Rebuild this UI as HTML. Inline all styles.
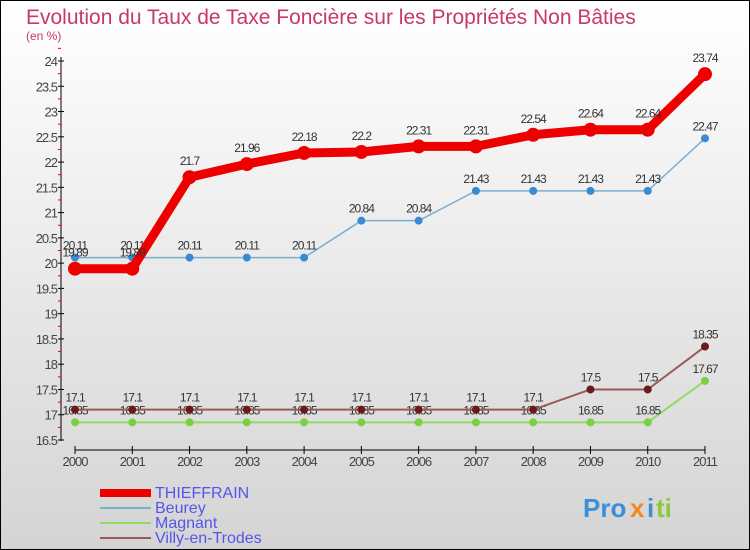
<!DOCTYPE html>
<html><head><meta charset="utf-8"><style>
body{margin:0}
svg{display:block;font-family:"Liberation Sans",sans-serif}
</style></head><body>
<svg width="750" height="550" id="c">
<defs><linearGradient id="bg" x1="0" y1="0" x2="0" y2="1"><stop offset="0" stop-color="#ffffff"/><stop offset="1" stop-color="#d4d4d4"/></linearGradient></defs>
<rect x="0.5" y="0.5" width="749" height="549" fill="url(#bg)" stroke="#000"/>
<text x="26" y="24" font-size="21" fill="#c8386a">Evolution du Taux de Taxe Foncière sur les Propriétés Non Bâties</text>
<text x="26" y="40" font-size="12" fill="#c8386a">(en %)</text>
<g id="axes"></g>
<g id="series"></g>
<g id="legend" font-size="16" fill="#5555ee">
<rect x="100" y="489" width="51" height="8" fill="#e00"/>
<text x="155" y="498">THIEFFRAIN</text>
<rect x="100" y="507" width="51" height="2" fill="#7aaed0"/>
<text x="155" y="513">Beurey</text>
<rect x="100" y="522" width="51" height="2" fill="#8fdc60"/>
<text x="155" y="528">Magnant</text>
<rect x="100" y="537" width="51" height="2" fill="#9a5a5a"/>
<text x="155" y="543">Villy-en-Trodes</text>
</g>
<g font-size="26" font-weight="bold">
<text x="583" y="517" fill="#3a8fd8">Pro</text><text x="630" y="517" fill="#f08a1c">x</text><text x="647" y="517" fill="#3a8fd8">i</text><text x="656" y="517" fill="#8cc83c">ti</text>
</g>
</svg>
<script>
const years=[2000,2001,2002,2003,2004,2005,2006,2007,2008,2009,2010,2011];
const thieffrain=[19.89,19.89,21.7,21.96,22.18,22.2,22.31,22.31,22.54,22.64,22.64,23.74];
const beurey=[20.11,20.11,20.11,20.11,20.11,20.84,20.84,21.43,21.43,21.43,21.43,22.47];
const magnant=[16.85,16.85,16.85,16.85,16.85,16.85,16.85,16.85,16.85,16.85,16.85,17.67];
const villy=[17.1,17.1,17.1,17.1,17.1,17.1,17.1,17.1,17.1,17.5,17.5,18.35];
const yTicks=[16.5,17,17.5,18,18.5,19,19.5,20,20.5,21,21.5,22,22.5,23,23.5,24];
const NS="http://www.w3.org/2000/svg";
const x=i=>75+i*(705-75)/(years.length-1);
const y=v=>440-(v-16.5)*(440-61)/7.5;
function mk(t,a,p){const e=document.createElementNS(NS,t);for(const k in a)e.setAttribute(k,a[k]);if(p)p.appendChild(e);return e;}
const ax=document.getElementById('axes');
const yl=mk('line',{x1:61,y1:57,x2:61,y2:441,stroke:'#000'},ax);


yTicks.forEach(v=>{
 mk('line',{x1:58,x2:64,y1:y(v),y2:y(v),stroke:'#000'},ax);
 mk('line',{x1:58,x2:61,y1:y(v+0.25),y2:y(v+0.25),stroke:'#e00'},ax);
 const t=mk('text',{x:57,y:y(v)+5,'text-anchor':'end','font-size':13,fill:'#444','letter-spacing':'-1'},ax);
 t.textContent=v;
 
 
});
const xl=mk('line',{x1:75,y1:450,x2:705,y2:450,stroke:'#000'},ax);


years.forEach((yr,i)=>{
 mk('line',{x1:x(i),x2:x(i),y1:446,y2:454,stroke:'#000'},ax);
 const t=mk('text',{x:x(i),y:466,'text-anchor':'middle','font-size':13,fill:'#444','letter-spacing':'-1'},ax);
 t.textContent=yr;
 
 
});
const sg=document.getElementById('series');
function series(name,data,color,lw,r,mc,lblOff){
 const g=mk('g',{},sg);
 
 
 const pl=mk('polyline',{points:data.map((v,i)=>x(i)+','+y(v)).join(' '),fill:'none',stroke:color,'stroke-width':lw,'stroke-linejoin':'round'},g);
 
 
 data.forEach((v,i)=>{
  const c=mk('circle',{cx:x(i),cy:y(v),r:r,fill:mc},g);
  
  
  const t=mk('text',{x:x(i),y:y(v)+lblOff,'text-anchor':'middle','font-size':12,fill:'#333','letter-spacing':'-1'},g);
  t.textContent=v;
  
  
 });
}
series('magnant',magnant,'#8fdc60',2,4,'#7ad040',-8);
series('villy-en-trodes',villy,'#9a5a5a',2,4,'#6a1a1a',-8);
series('beurey',beurey,'#7aaed0',1.5,4,'#3a8ad0',-8);
series('thieffrain',thieffrain,'#e00',9,7,'#e00',-12);
</script>
</body></html>
